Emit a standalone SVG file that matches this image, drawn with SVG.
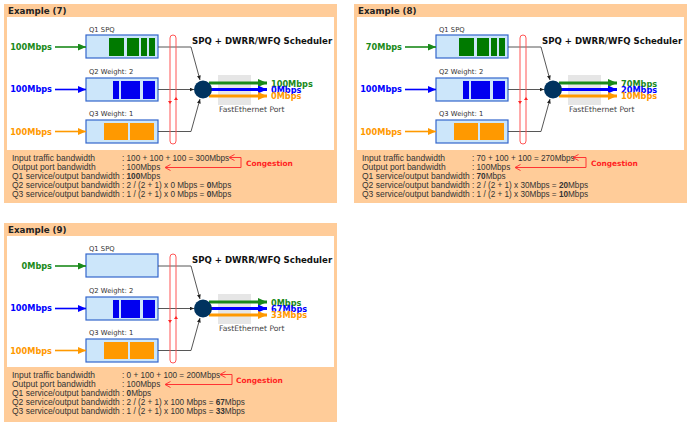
<svg xmlns="http://www.w3.org/2000/svg" width="693" height="428" viewBox="0 0 693 428">
<defs>
<style>
.frame{fill:#FFCC99}
.inner{fill:#FFFFFF}
.title{font:bold 8.7px "DejaVu Sans",Verdana,sans-serif;fill:#222}
.qbox{fill:#CCE6FA;stroke:#3366CC;stroke-width:1.2}
.qlabel{font:6.8px "DejaVu Sans",Verdana,sans-serif;fill:#333}
.in{font:bold 8.2px "DejaVu Sans",Verdana,sans-serif}
.tg{fill:#1A8A1A}.tb{fill:#0000FF}.to{fill:#FF9900}
.pg{fill:#007A00}.pb{fill:#0000F0}.po{fill:#FF9900}
.ag{stroke:#1A8A1A;stroke-width:1.6;fill:none}
.ab{stroke:#0000FF;stroke-width:1.6;fill:none}
.ao{stroke:#FF9900;stroke-width:1.6;fill:none}
.og{stroke:#1A8A1A;stroke-width:3;fill:none}
.ob{stroke:#0000FF;stroke-width:3;fill:none}
.oo{stroke:#FF9900;stroke-width:3;fill:none}
.conn{stroke:#444;stroke-width:0.9;fill:none}
.sched{font:bold 8.6px "DejaVu Sans",Verdana,sans-serif;fill:#111}
.port{font:7.6px "DejaVu Sans",Verdana,sans-serif;fill:#444}
.portbg{fill:#E6E6E6}
.hub{fill:#00335F}
.pill{fill:none;stroke:#FF5555;stroke-width:1}
.redm{fill:#FF2222}
.body{font:8.2px "Liberation Sans",Arial,sans-serif;fill:#333}
.lbl{font:8.5px "Liberation Sans",Arial,sans-serif;fill:#333}
.cong{font:bold 7.4px "DejaVu Sans",Verdana,sans-serif;fill:#FF2222}
.brk{stroke:#FF3333;stroke-width:1;fill:none}
</style>
<marker id="mg" markerUnits="userSpaceOnUse" markerWidth="9" markerHeight="7" refX="8" refY="3.5" orient="auto"><path d="M0,0 L8,3.5 L0,7 z" fill="#1A8A1A"/></marker>
<marker id="mb" markerUnits="userSpaceOnUse" markerWidth="9" markerHeight="7" refX="8" refY="3.5" orient="auto"><path d="M0,0 L8,3.5 L0,7 z" fill="#0000FF"/></marker>
<marker id="mo" markerUnits="userSpaceOnUse" markerWidth="9" markerHeight="7" refX="8" refY="3.5" orient="auto"><path d="M0,0 L8,3.5 L0,7 z" fill="#FF9900"/></marker>
<marker id="Mg" markerUnits="userSpaceOnUse" markerWidth="10" markerHeight="8" refX="9" refY="4" orient="auto"><path d="M0,0 L9,4 L0,8 z" fill="#1A8A1A"/></marker>
<marker id="Mb" markerUnits="userSpaceOnUse" markerWidth="10" markerHeight="8" refX="9" refY="4" orient="auto"><path d="M0,0 L9,4 L0,8 z" fill="#0000FF"/></marker>
<marker id="Mo" markerUnits="userSpaceOnUse" markerWidth="10" markerHeight="8" refX="9" refY="4" orient="auto"><path d="M0,0 L9,4 L0,8 z" fill="#FF9900"/></marker>
<marker id="mk" markerUnits="userSpaceOnUse" markerWidth="5" markerHeight="4" refX="4.5" refY="2" orient="auto"><path d="M0,0 L4.5,2 L0,4 z" fill="#222"/></marker>
<marker id="mr" markerUnits="userSpaceOnUse" markerWidth="7" markerHeight="7" refX="5.5" refY="3" orient="auto" overflow="visible"><path d="M0,0 L5.5,3 L0,6" fill="none" stroke="#FF3333" stroke-width="1"/></marker>
</defs>

<!-- ===== Example 7 ===== -->
<g id="panel7">
<rect class="frame" x="4" y="4" width="333" height="199"/>
<rect class="inner" x="7" y="17" width="327" height="133"/>
<text class="title" x="8" y="14">Example (7)</text>
<g id="p7-in1"><text class="in tg" x="52" y="50" text-anchor="end">100Mbps</text></g>
<g id="p7-in2"><text class="in tb" x="52" y="92" text-anchor="end">100Mbps</text></g>
<g id="p7-in3"><text class="in to" x="52" y="134.5" text-anchor="end">100Mbps</text></g>
<g id="p7-q1"><text class="qlabel" x="89" y="32">Q1 SPQ</text><rect class="qbox" x="86" y="35" width="72" height="23"/>
<rect class="pg" x="109" y="38" width="15" height="18"/><rect class="pg" x="127" y="38" width="12" height="18"/><rect class="pg" x="141" y="38" width="6" height="18"/><rect class="pg" x="149" y="38" width="6" height="18"/></g>
<g id="p7-q2"><text class="qlabel" x="89" y="74">Q2 Weight: 2</text><rect class="qbox" x="86" y="78" width="72" height="23"/>
<rect class="pb" x="113" y="81" width="6" height="18"/><rect class="pb" x="121" y="81" width="19" height="18"/><rect class="pb" x="143" y="81" width="12" height="18"/></g>
<g id="p7-q3"><text class="qlabel" x="89" y="116">Q3 Weight: 1</text><rect class="qbox" x="86" y="120" width="72" height="23"/>
<rect class="po" x="104" y="123" width="24" height="17"/><rect class="po" x="130" y="123" width="24" height="17"/></g>
<g id="p7-port"><rect class="portbg" x="218" y="75" width="33" height="30"/><text class="port" x="219" y="112">FastEthernet Port</text></g>
<g id="p7-connectors">
<path class="ag" d="M55,47 H86" marker-end="url(#mg)"/>
<path class="ab" d="M55,89.5 H86" marker-end="url(#mb)"/>
<path class="ao" d="M55,131.5 H86" marker-end="url(#mo)"/>
<path class="conn" d="M158,47 H191 L200,80" marker-end="url(#mk)"/>
<path class="conn" d="M158,89.5 H194" marker-end="url(#mk)"/>
<path class="conn" d="M158,131.5 H191 L200,99" marker-end="url(#mk)"/>
<path class="og" d="M209,83 H267" marker-end="url(#Mg)"/>
<path class="ob" d="M210,89.5 H267" marker-end="url(#Mb)"/>
<path class="oo" d="M209,96 H267" marker-end="url(#Mo)"/>
</g>
<g id="p7-sched"><circle class="hub" cx="203" cy="89.5" r="9"/><text class="sched" x="192" y="44">SPQ + DWRR/WFQ Scheduler</text></g>
<g id="p7-pill"><rect class="pill" x="170" y="35" width="6" height="109" rx="3"/><path class="redm" d="M168,101 H172 L170,104 z M174,100 H178 L176,97 z"/></g>
<g id="p7-out"><text class="in tg" x="271" y="86.5">100Mbps</text><text class="in tb" x="271" y="92.5">0Mbps</text><text class="in to" x="271" y="99">0Mbps</text></g>
<g id="p7-calc">
<text class="lbl" x="12" y="161">Input traffic bandwidth</text><text class="body" x="122" y="161">: 100 + 100 + 100 = 300Mbps</text>
<text class="lbl" x="12" y="170">Output port bandwidth</text><text class="body" x="122" y="170">: 100Mbps</text>
<text class="lbl" x="12" y="179">Q1 service/output bandwidth</text><text class="body" x="122" y="179">: <tspan font-weight="bold">100</tspan>Mbps</text>
<text class="lbl" x="12" y="188">Q2 service/output bandwidth</text><text class="body" x="122" y="188">: 2 / (2 + 1) x 0 Mbps = <tspan font-weight="bold">0</tspan>Mbps</text>
<text class="lbl" x="12" y="197">Q3 service/output bandwidth</text><text class="body" x="122" y="197">: 1 / (2 + 1) x 0 Mbps = <tspan font-weight="bold">0</tspan>Mbps</text>
<path class="brk" d="M241,157.5 H229" marker-end="url(#mr)"/>
<path class="brk" d="M241,157.5 V167.5 H165" marker-end="url(#mr)"/>
<text class="cong" x="246" y="166">Congestion</text>
</g>
</g>

<!-- ===== Example 8 ===== -->
<g id="panel8" transform="translate(350,0)">
<rect class="frame" x="4" y="4" width="333" height="199"/>
<rect class="inner" x="7" y="17" width="327" height="133"/>
<text class="title" x="8" y="14">Example (8)</text>
<g id="p8-in1"><text class="in tg" x="52" y="50" text-anchor="end">70Mbps</text></g>
<g id="p8-in2"><text class="in tb" x="52" y="92" text-anchor="end">100Mbps</text></g>
<g id="p8-in3"><text class="in to" x="52" y="134.5" text-anchor="end">100Mbps</text></g>
<g id="p8-q1"><text class="qlabel" x="89" y="32">Q1 SPQ</text><rect class="qbox" x="86" y="35" width="72" height="23"/>
<rect class="pg" x="109" y="38" width="15" height="18"/><rect class="pg" x="127" y="38" width="12" height="18"/><rect class="pg" x="141" y="38" width="6" height="18"/><rect class="pg" x="149" y="38" width="6" height="18"/></g>
<g id="p8-q2"><text class="qlabel" x="89" y="74">Q2 Weight: 2</text><rect class="qbox" x="86" y="78" width="72" height="23"/>
<rect class="pb" x="113" y="81" width="6" height="18"/><rect class="pb" x="121" y="81" width="19" height="18"/><rect class="pb" x="143" y="81" width="12" height="18"/></g>
<g id="p8-q3"><text class="qlabel" x="89" y="116">Q3 Weight: 1</text><rect class="qbox" x="86" y="120" width="72" height="23"/>
<rect class="po" x="104" y="123" width="24" height="17"/><rect class="po" x="130" y="123" width="24" height="17"/></g>
<g id="p8-port"><rect class="portbg" x="218" y="75" width="33" height="30"/><text class="port" x="219" y="112">FastEthernet Port</text></g>
<g id="p8-connectors">
<path class="ag" d="M55,47 H86" marker-end="url(#mg)"/>
<path class="ab" d="M55,89.5 H86" marker-end="url(#mb)"/>
<path class="ao" d="M55,131.5 H86" marker-end="url(#mo)"/>
<path class="conn" d="M158,47 H191 L200,80" marker-end="url(#mk)"/>
<path class="conn" d="M158,89.5 H194" marker-end="url(#mk)"/>
<path class="conn" d="M158,131.5 H191 L200,99" marker-end="url(#mk)"/>
<path class="og" d="M209,83 H267" marker-end="url(#Mg)"/>
<path class="ob" d="M210,89.5 H267" marker-end="url(#Mb)"/>
<path class="oo" d="M209,96 H267" marker-end="url(#Mo)"/>
</g>
<g id="p8-sched"><circle class="hub" cx="203" cy="89.5" r="9"/><text class="sched" x="192" y="44">SPQ + DWRR/WFQ Scheduler</text></g>
<g id="p8-pill"><rect class="pill" x="170" y="35" width="6" height="109" rx="3"/><path class="redm" d="M168,101 H172 L170,104 z M174,100 H178 L176,97 z"/></g>
<g id="p8-out"><text class="in tg" x="271" y="86.5">70Mbps</text><text class="in tb" x="271" y="92.5">20Mbps</text><text class="in to" x="271" y="99">10Mbps</text></g>
<g id="p8-calc">
<text class="lbl" x="12" y="161">Input traffic bandwidth</text><text class="body" x="122" y="161">: 70 + 100 + 100 = 270Mbps</text>
<text class="lbl" x="12" y="170">Output port bandwidth</text><text class="body" x="122" y="170">: 100Mbps</text>
<text class="lbl" x="12" y="179">Q1 service/output bandwidth</text><text class="body" x="122" y="179">: <tspan font-weight="bold">70</tspan>Mbps</text>
<text class="lbl" x="12" y="188">Q2 service/output bandwidth</text><text class="body" x="122" y="188">: 2 / (2 + 1) x 30Mbps = <tspan font-weight="bold">20</tspan>Mbps</text>
<text class="lbl" x="12" y="197">Q3 service/output bandwidth</text><text class="body" x="122" y="197">: 1 / (2 + 1) x 30Mbps = <tspan font-weight="bold">10</tspan>Mbps</text>
<path class="brk" d="M236,157.5 H223" marker-end="url(#mr)"/>
<path class="brk" d="M236,157.5 V167.5 H165" marker-end="url(#mr)"/>
<text class="cong" x="241" y="166">Congestion</text>
</g>
</g>

<!-- ===== Example 9 ===== -->
<g id="panel9" transform="translate(0,219)">
<rect class="frame" x="4" y="4" width="333" height="199"/>
<rect class="inner" x="7" y="17" width="327" height="131"/>
<text class="title" x="8" y="14">Example (9)</text>
<g id="p9-in1"><text class="in tg" x="52" y="50" text-anchor="end">0Mbps</text></g>
<g id="p9-in2"><text class="in tb" x="52" y="92" text-anchor="end">100Mbps</text></g>
<g id="p9-in3"><text class="in to" x="52" y="134.5" text-anchor="end">100Mbps</text></g>
<g id="p9-q1"><text class="qlabel" x="89" y="32">Q1 SPQ</text><rect class="qbox" x="86" y="35" width="72" height="23"/></g>
<g id="p9-q2"><text class="qlabel" x="89" y="74">Q2 Weight: 2</text><rect class="qbox" x="86" y="78" width="72" height="23"/>
<rect class="pb" x="113" y="81" width="6" height="18"/><rect class="pb" x="121" y="81" width="19" height="18"/><rect class="pb" x="143" y="81" width="12" height="18"/></g>
<g id="p9-q3"><text class="qlabel" x="89" y="116">Q3 Weight: 1</text><rect class="qbox" x="86" y="120" width="72" height="23"/>
<rect class="po" x="104" y="123" width="24" height="17"/><rect class="po" x="130" y="123" width="24" height="17"/></g>
<g id="p9-port"><rect class="portbg" x="218" y="75" width="33" height="30"/><text class="port" x="219" y="112">FastEthernet Port</text></g>
<g id="p9-connectors">
<path class="ag" d="M55,47 H86" marker-end="url(#mg)"/>
<path class="ab" d="M55,89.5 H86" marker-end="url(#mb)"/>
<path class="ao" d="M55,131.5 H86" marker-end="url(#mo)"/>
<path class="conn" d="M158,47 H191 L200,80" marker-end="url(#mk)"/>
<path class="conn" d="M158,89.5 H194" marker-end="url(#mk)"/>
<path class="conn" d="M158,131.5 H191 L200,99" marker-end="url(#mk)"/>
<path class="og" d="M209,83 H267" marker-end="url(#Mg)"/>
<path class="ob" d="M210,89.5 H267" marker-end="url(#Mb)"/>
<path class="oo" d="M209,96 H267" marker-end="url(#Mo)"/>
</g>
<g id="p9-sched"><circle class="hub" cx="203" cy="89.5" r="9"/><text class="sched" x="192" y="44">SPQ + DWRR/WFQ Scheduler</text></g>
<g id="p9-pill"><rect class="pill" x="170" y="35" width="6" height="109" rx="3"/><path class="redm" d="M168,101 H172 L170,104 z M174,100 H178 L176,97 z"/></g>
<g id="p9-out"><text class="in tg" x="271" y="86.5">0Mbps</text><text class="in tb" x="271" y="92.5">67Mbps</text><text class="in to" x="271" y="99">33Mbps</text></g>
<g id="p9-calc">
<text class="lbl" x="12" y="159">Input traffic bandwidth</text><text class="body" x="122" y="159">: 0 + 100 + 100 = 200Mbps</text>
<text class="lbl" x="12" y="168">Output port bandwidth</text><text class="body" x="122" y="168">: 100Mbps</text>
<text class="lbl" x="12" y="177">Q1 service/output bandwidth</text><text class="body" x="122" y="177">: <tspan font-weight="bold">0</tspan>Mbps</text>
<text class="lbl" x="12" y="186">Q2 service/output bandwidth</text><text class="body" x="122" y="186">: 2 / (2 + 1) x 100 Mbps = <tspan font-weight="bold">67</tspan>Mbps</text>
<text class="lbl" x="12" y="195">Q3 service/output bandwidth</text><text class="body" x="122" y="195">: 1 / (2 + 1) x 100 Mbps = <tspan font-weight="bold">33</tspan>Mbps</text>
<path class="brk" d="M232,155.5 H220" marker-end="url(#mr)"/>
<path class="brk" d="M232,155.5 V165.5 H165" marker-end="url(#mr)"/>
<text class="cong" x="236" y="164">Congestion</text>
</g>
</g>
</svg>
